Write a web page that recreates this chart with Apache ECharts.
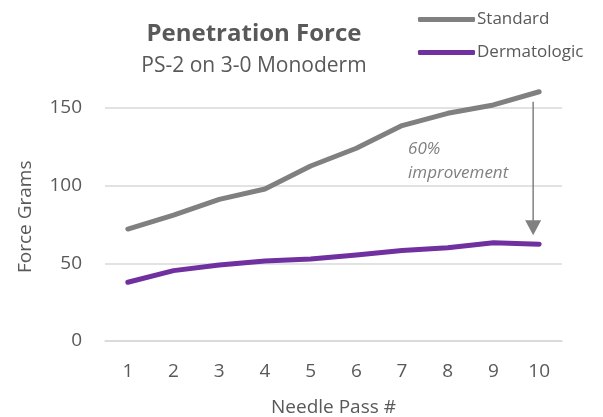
<!DOCTYPE html>
<html>
<head>
<meta charset="utf-8">
<script src="https://cdn.jsdelivr.net/npm/echarts@6/dist/echarts.min.js"></script>
<style>html,body{margin:0;padding:0;background:#fff}#c{width:603px;height:417px}</style>
</head>
<body>
<div id="c"></div>
<script>
var categories = ['1','2','3','4','5','6','7','8','9','10'];
var standard = [72.1, 81.1, 91.2, 97.9, 112.7, 124.1, 138.7, 146.6, 152.0, 160.5];
var dermatologic = [37.8, 45.3, 48.9, 51.5, 52.8, 55.4, 58.2, 60.1, 63.3, 62.3];
var seriesNames = ['Standard', 'Dermatologic'];
var titleText = 'Penetration Force';
var subtitleText = 'PS-2 on 3-0 Monoderm';
var annotationText = ['60%', 'improvement'];

var FONT = '"Open Sans", sans-serif';
var TXT = '#595959';
var chart = echarts.init(document.getElementById('c'), null, {renderer: 'canvas'});
var option = {
  animation: false,
  textStyle: {fontFamily: FONT},
  title: {
    text: titleText,
    subtext: subtitleText,
    left: 254, top: 22, textAlign: 'center',
    padding: 0,
    itemGap: 10,
    textStyle: {fontFamily: FONT, fontSize: 24, fontWeight: 'bold', color: TXT},
    subtextStyle: {fontFamily: FONT, fontSize: 21, color: TXT}
  },
  legend: {
    orient: 'vertical', left: 413, top: 3,
    itemWidth: 57, itemHeight: 5, itemGap: 10,
    icon: 'roundRect',
    textStyle: {fontFamily: FONT, fontSize: 17, color: TXT, padding: [0,0,0,-3], lineHeight: 23},
    data: seriesNames
  },
  grid: {left: 105, right: 41, top: 92.5, bottom: 76, outerBoundsMode: 'none', containLabel: false},
  xAxis: {
    type: 'category', data: categories, boundaryGap: true,
    axisLine: {lineStyle: {color: '#d9d9d9', width: 1.5}},
    axisTick: {show: false},
    axisLabel: {fontFamily: FONT, fontSize: 19, color: TXT, margin: 21},
    name: 'Needle Pass #', nameLocation: 'middle', nameGap: 57,
    nameTextStyle: {fontFamily: FONT, fontSize: 19, color: TXT}
  },
  yAxis: {
    type: 'value', min: 0, max: 160, interval: 50,
    axisLine: {show: false}, axisTick: {show: false},
    splitLine: {lineStyle: {color: '#d9d9d9', width: 1.5}, showMaxLine: false},
    axisLabel: {fontFamily: FONT, fontSize: 19, color: TXT, margin: 23, showMaxLabel: false},
    name: 'Force Grams', nameLocation: 'middle', nameGap: 70,
    nameTextStyle: {fontFamily: FONT, fontSize: 19, color: TXT}
  },
  series: [
    {name: seriesNames[0], type: 'line', data: standard, showSymbol: false, symbol: 'none',
     lineStyle: {color: '#808080', width: 5, cap: 'round', join: 'round'}, itemStyle: {color: '#808080'}, clip: false},
    {name: seriesNames[1], type: 'line', data: dermatologic, showSymbol: false, symbol: 'none',
     lineStyle: {color: '#7030A0', width: 5, cap: 'round', join: 'round'}, itemStyle: {color: '#7030A0'}, clip: false}
  ]
};
chart.setOption(option);

var last = categories.length - 1;
var pTop = chart.convertToPixel({gridIndex: 0}, [last, standard[last]]);
var pBot = chart.convertToPixel({gridIndex: 0}, [last, dermatologic[last]]);
var ax = pTop[0] - 6;
var y1 = pTop[1] + 10, y2 = pBot[1] - 9;
var pAnn = chart.convertToPixel({gridIndex: 0}, [6, standard[6]]);
chart.setOption({
  graphic: [
    {type: 'line', shape: {x1: ax, y1: y1, x2: ax, y2: y2 - 14}, style: {stroke: '#808080', lineWidth: 1.5}},
    {type: 'polygon', shape: {points: [[ax - 8, y2 - 15], [ax + 8, y2 - 15], [ax, y2]]}, style: {fill: '#808080'}},
    {type: 'text', left: pAnn[0] + 6, top: 137, style: {text: annotationText[0] + '\n' + annotationText[1], font: 'italic 17px "Open Sans", sans-serif', fill: '#808080', lineHeight: 24}}
  ]
});
</script>
</body>
</html>
